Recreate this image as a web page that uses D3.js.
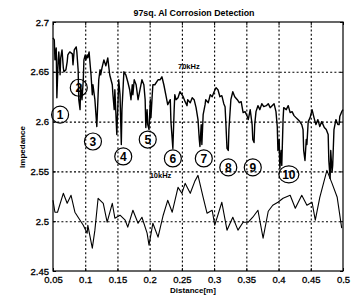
<!DOCTYPE html>
<html>
<head>
<meta charset="utf-8">
<script src="https://cdn.jsdelivr.net/npm/d3@7"></script>
<style>
  body { margin: 0; background: #fff; }
  svg text { font-family: "Liberation Sans", Arial, sans-serif; fill: #000; }
</style>
</head>
<body>
<div id="chart"></div>
<script>
// 70kHz signature (upper trace)
const dist70 = [0.050,0.052,0.053,0.055,0.056,0.058,0.059,0.061,0.062,0.064,0.066,0.067,0.070,0.072,0.073,0.076,0.080,0.081,0.083,0.086,
  0.087,0.089,0.090,0.092,0.093,0.095,0.097,0.098,0.100,0.101,0.103,0.104,0.106,0.107,0.109,0.111,0.112,0.115,0.118,0.120,
  0.121,0.123,0.124,0.126,0.129,0.132,0.135,0.138,0.142,0.143,0.145,0.146,0.149,0.151,0.152,0.154,0.156,0.157,0.159,0.160,
  0.163,0.166,0.169,0.171,0.173,0.174,0.176,0.179,0.182,0.185,0.188,0.191,0.193,0.194,0.196,0.197,0.199,0.201,0.202,0.204,
  0.205,0.208,0.213,0.216,0.219,0.222,0.225,0.228,0.232,0.233,0.236,0.238,0.239,0.241,0.244,0.247,0.250,0.252,0.255,0.258,
  0.259,0.263,0.266,0.269,0.272,0.275,0.277,0.278,0.280,0.281,0.283,0.286,0.287,0.291,0.294,0.297,0.300,0.303,0.306,0.309,
  0.312,0.315,0.317,0.318,0.320,0.322,0.323,0.325,0.326,0.329,0.332,0.336,0.339,0.342,0.345,0.348,0.351,0.353,0.356,0.359,
  0.360,0.362,0.363,0.365,0.368,0.371,0.374,0.377,0.381,0.384,0.387,0.390,0.393,0.396,0.398,0.399,0.401,0.402,0.404,0.405,
  0.407,0.408,0.412,0.415,0.418,0.421,0.424,0.427,0.430,0.433,0.436,0.438,0.439,0.441,0.443,0.444,0.446,0.449,0.452,0.455,
  0.458,0.461,0.464,0.467,0.471,0.474,0.477,0.478,0.480,0.481,0.483,0.484,0.486,0.489,0.492,0.494,0.495,0.498,0.500];
const imp70 = [2.684,2.682,2.662,2.674,2.624,2.662,2.670,2.647,2.664,2.672,2.654,2.650,2.652,2.660,2.667,2.670,2.668,2.657,2.672,2.675,
  2.670,2.652,2.622,2.612,2.637,2.622,2.642,2.662,2.667,2.662,2.667,2.664,2.670,2.662,2.647,2.627,2.637,2.622,2.595,2.627,
  2.642,2.652,2.647,2.654,2.662,2.656,2.664,2.647,2.637,2.627,2.612,2.632,2.587,2.622,2.642,2.627,2.577,2.612,2.637,2.650,
  2.647,2.640,2.632,2.622,2.637,2.627,2.642,2.637,2.622,2.632,2.642,2.637,2.622,2.594,2.612,2.597,2.592,2.622,2.604,2.627,
  2.637,2.637,2.642,2.642,2.645,2.637,2.627,2.617,2.622,2.600,2.573,2.612,2.627,2.622,2.624,2.630,2.627,2.625,2.620,2.616,
  2.622,2.619,2.624,2.622,2.614,2.602,2.582,2.575,2.597,2.577,2.607,2.617,2.622,2.619,2.627,2.625,2.630,2.634,2.632,2.625,
  2.626,2.618,2.615,2.602,2.573,2.571,2.592,2.612,2.622,2.630,2.625,2.622,2.619,2.620,2.609,2.610,2.606,2.602,2.612,2.597,
  2.582,2.579,2.597,2.610,2.616,2.612,2.618,2.615,2.616,2.618,2.614,2.616,2.618,2.610,2.595,2.571,2.582,2.553,2.571,2.556,
  2.602,2.614,2.612,2.616,2.609,2.610,2.606,2.604,2.602,2.600,2.597,2.592,2.571,2.561,2.582,2.577,2.600,2.604,2.612,2.604,
  2.597,2.602,2.595,2.600,2.594,2.592,2.587,2.561,2.543,2.571,2.549,2.556,2.592,2.602,2.597,2.597,2.605,2.610,2.612];

// 10kHz signature (lower trace)
const dist10 = [0.050,0.053,0.057,0.066,0.072,0.078,0.084,0.092,0.097,0.103,0.104,0.111,0.115,0.120,0.128,0.134,0.142,0.146,0.154,0.162,
  0.166,0.174,0.182,0.188,0.196,0.199,0.205,0.213,0.221,0.228,0.235,0.244,0.250,0.255,0.263,0.270,0.275,0.283,0.289,0.297,
  0.301,0.312,0.320,0.329,0.337,0.345,0.353,0.360,0.368,0.376,0.384,0.391,0.399,0.407,0.418,0.426,0.436,0.444,0.452,0.457,
  0.464,0.475,0.483,0.491,0.498];
const imp10 = [2.521,2.509,2.509,2.528,2.518,2.526,2.509,2.501,2.496,2.488,2.496,2.473,2.491,2.523,2.518,2.499,2.518,2.503,2.506,2.501,
  2.494,2.511,2.498,2.504,2.488,2.476,2.498,2.484,2.506,2.521,2.509,2.534,2.528,2.538,2.528,2.540,2.546,2.524,2.508,2.511,
  2.496,2.519,2.491,2.504,2.491,2.499,2.499,2.504,2.511,2.483,2.510,2.516,2.519,2.523,2.526,2.513,2.526,2.516,2.519,2.501,
  2.524,2.551,2.538,2.524,2.493];

// numbered damage marks
const markNo = ["1","2","3","4","5","6","7","8","9","10"];
const markDist = [0.061,0.090,0.112,0.159,0.197,0.236,0.284,0.322,0.360,0.416];
const markImp = [2.607,2.634,2.580,2.565,2.582,2.563,2.563,2.554,2.554,2.547];

const xTicks = [0.05,0.1,0.15,0.2,0.25,0.3,0.35,0.4,0.45,0.5];
const xLabels = ["0.05","0.1","0.15","0.2","0.25","0.3","0.35","0.4","0.45","0.5"];
const yTicks = [2.45,2.5,2.55,2.6,2.65,2.7];
const yLabels = ["2.45","2.5","2.55","2.6","2.65","2.7"];

const W = 356, H = 301;
const m = {top: 22, right: 13, bottom: 30, left: 53};
const w = W - m.left - m.right, h = H - m.top - m.bottom;

const svg = d3.select("#chart").append("svg").attr("width", W).attr("height", H);

svg.append("text").attr("x", 194).attr("y", 16).attr("text-anchor", "middle")
  .attr("textLength", 121).attr("lengthAdjust", "spacingAndGlyphs")
  .style("font-size", "8.5px").style("font-weight", "bold")
  .text("97sq. Al Corrosion Detection");

const g = svg.append("g").attr("transform", `translate(${m.left},${m.top})`);

const x = d3.scaleLinear().domain([0.05, 0.5]).range([0, w]);
const y = d3.scaleLinear().domain([2.45, 2.7]).range([h, 0]);

// dotted grid
g.append("g").attr("class", "grid")
  .attr("transform", `translate(0,${h})`)
  .call(d3.axisBottom(x).tickValues(xTicks.slice(1, -1)).tickSize(-h).tickFormat(""));
g.append("g").attr("class", "grid")
  .call(d3.axisLeft(y).tickValues(yTicks.slice(1, -1)).tickSize(-w).tickFormat(""));
g.selectAll(".grid .domain").remove();
g.selectAll(".grid line").attr("stroke", "#000").attr("stroke-width", 1.1).attr("stroke-dasharray", "2,2.2");

// axes with inward ticks
const xAxis = g.append("g").attr("transform", `translate(0,${h})`)
  .call(d3.axisBottom(x).tickValues(xTicks).tickSize(-3).tickPadding(6).tickFormat((d, i) => xLabels[i]));
const yAxis = g.append("g")
  .call(d3.axisLeft(y).tickValues(yTicks).tickSize(-3).tickPadding(4).tickFormat((d, i) => yLabels[i]));
g.append("g").call(d3.axisTop(x).tickValues(xTicks).tickSize(-3).tickFormat(""));
g.append("g").attr("transform", `translate(${w},0)`)
  .call(d3.axisRight(y).tickValues(yTicks).tickSize(-3).tickFormat(""));
g.selectAll(".domain").remove();
g.selectAll(".tick text").style("font-size", "9.5px")
  .style("font-family", "'Liberation Sans', Arial, sans-serif")
  .attr("stroke", "#000").attr("stroke-width", 0.3);
xAxis.selectAll(".tick text").attr("dy", "0.6em");

g.append("rect").attr("width", w).attr("height", h)
  .attr("fill", "none").attr("stroke", "#000").attr("stroke-width", 1.2);

// traces
const line = dist => d3.line().x((d, i) => x(dist[i])).y(d => y(d));
g.append("path").datum(imp70).attr("d", line(dist70))
  .attr("fill", "none").attr("stroke", "#000").attr("stroke-width", 1.4).attr("stroke-linejoin", "round");
g.append("path").datum(imp10).attr("d", line(dist10))
  .attr("fill", "none").attr("stroke", "#000").attr("stroke-width", 1.1).attr("stroke-linejoin", "round");

g.append("text").attr("x", x(0.244)).attr("y", y(2.653))
  .style("font-size", "7.5px").style("font-weight", "bold").text("70kHz");
g.append("text").attr("x", x(0.200)).attr("y", y(2.543))
  .style("font-size", "7.5px").style("font-weight", "bold").text("10kHz");

// numbered circles
const marks = g.selectAll(".mark").data(markNo).enter().append("g")
  .attr("class", "mark")
  .attr("transform", (d, i) => `translate(${x(markDist[i])},${y(markImp[i])})`);
marks.append("ellipse").attr("rx", d => d.length > 1 ? 10 : 8.5).attr("ry", 8.5)
  .attr("fill", "none").attr("stroke", "#000").attr("stroke-width", 1.2);
marks.append("text").attr("text-anchor", "middle").attr("dy", "0.36em")
  .style("font-size", "12px").style("font-weight", "bold").text(d => d);

// axis titles
svg.append("text").attr("x", 193).attr("y", 293).attr("text-anchor", "middle")
  .style("font-size", "8px").style("font-weight", "bold").text("Distance[m]");
svg.append("text").attr("transform", "translate(25,147) rotate(-90)").attr("text-anchor", "middle")
  .style("font-size", "8px").style("font-weight", "bold").text("Impedance");
</script>
</body>
</html>
